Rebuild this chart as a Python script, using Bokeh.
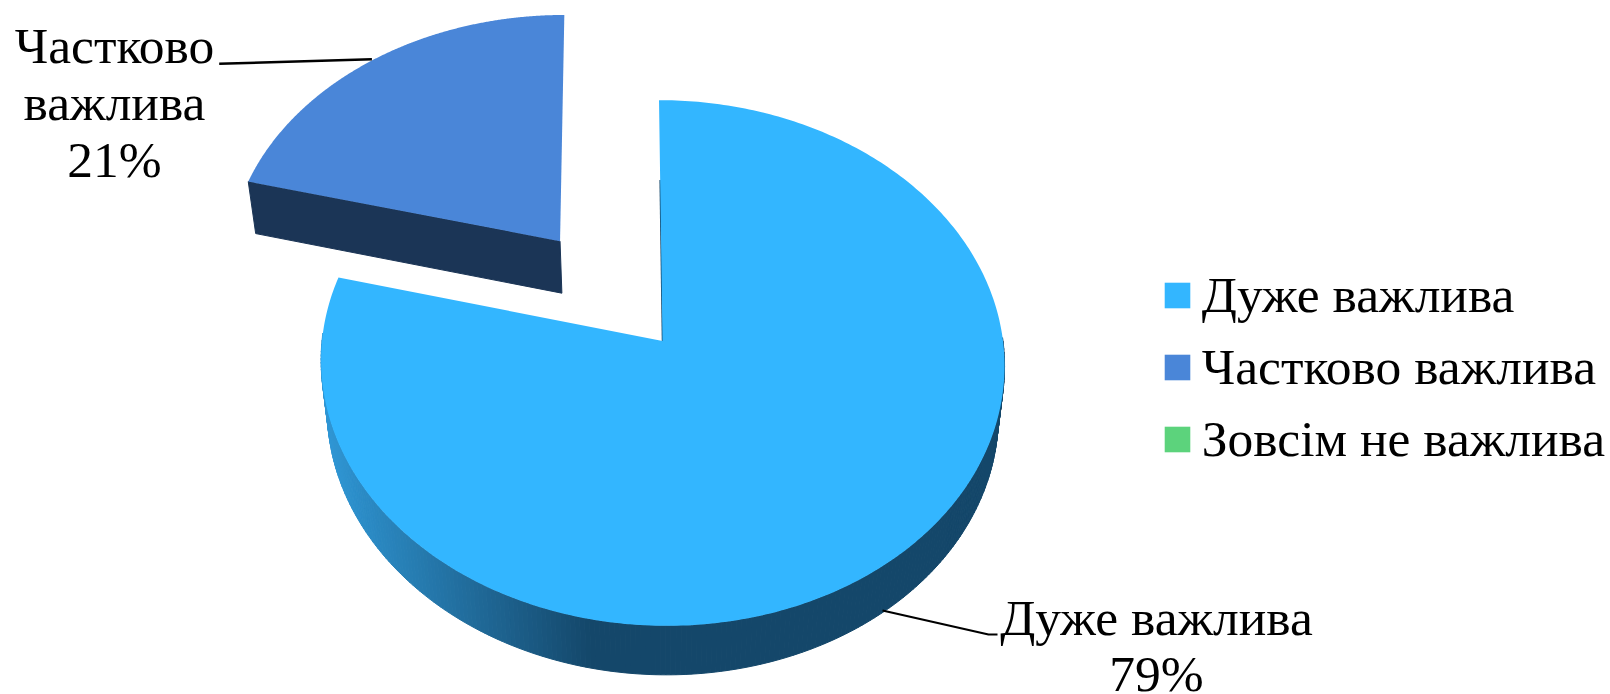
import numpy as np
from bokeh.core.properties import value
from bokeh.embed import file_html
from bokeh.models import Legend, LegendItem, Range1d
from bokeh.plotting import figure
from bokeh.resources import INLINE

categories = ["Дуже важлива", "Частково важлива", "Зовсім не важлива"]
shares = [79, 21, 0]
share_labels = ["79%", "21%", "0%"]
face_colors = ["#33B6FF", "#4A86D8", "#5CD37C"]
explode = [0.0, 0.50, 0.0]
wall_depth = [49.0, 52.0, 0.0]

FONT = "Liberation Serif"
FONT_PX = "51.5px"
CX, CY = 662.0, 340.5     # pie centre in the picture
RX, RY = 340.5, 261.0     # radii of the ground circle
K, SHEAR = 0.0837, 0.0145 # perspective and slant of the camera
TAPER = 0.018
TEXT_SHIFT = 18.5         # from the text's anchor to its drawn baseline

def to_screen(u, v):
    w = 1 + K * np.asarray(v)
    up = RY * np.asarray(v) / w
    return CX + RX * np.asarray(u) / w - SHEAR * up, CY - up

def to_bottom(x, y, depth):
    return x + (CX - x) * TAPER, y + depth

p = figure(width=1610, height=694, output_backend="svg", toolbar_location=None,
           x_range=Range1d(0, 1610), y_range=Range1d(694, 0),
           x_axis_location=None, y_axis_location=None, min_border=0,
           outline_line_color=None, background_fill_color="white")
p.grid.visible = False

def lerp_hex(a, b, t):
    ca = [int(a[i:i + 2], 16) for i in (1, 3, 5)]
    cb = [int(b[i:i + 2], 16) for i in (1, 3, 5)]
    return "#%02x%02x%02x" % tuple(round(x + (y - x) * t) for x, y in zip(ca, cb))

total = sum(shares)
starts = np.cumsum([0] + shares[:-1]) / total * 2 * np.pi
spans = np.array(shares) / total * 2 * np.pi
faces = []

for i, cat in enumerate(categories):
    mid = starts[i] + spans[i] / 2
    u0, v0 = explode[i] * np.sin(mid), explode[i] * np.cos(mid)
    th = np.linspace(starts[i], starts[i] + spans[i], 361)
    u = np.concatenate([[u0], u0 + np.sin(th)])
    v = np.concatenate([[v0], v0 + np.cos(th)])
    x, y = to_screen(u, v)
    bx, by = to_bottom(x, y, wall_depth[i])
    if i == 0:
        # curved outer wall, shaded from left to right; only the near side shows
        for j in range(1, len(x) - 1):
            if v[j] > 0.02:
                continue
            xm = (x[j] + x[j + 1]) / 2
            t = min(max((xm - 325) / 265, 0), 1)
            col = lerp_hex("#2F96D4", "#14476A", t)
            p.patch([x[j], x[j + 1], bx[j + 1], bx[j]], [y[j], y[j + 1], by[j + 1], by[j]],
                    fill_color=col, line_color=col, line_width=1)
        # the thin wall seen along the upright cut
        wx, wy = to_screen(np.array([0, 0]), np.array([0, 0.65]))
        p.line(wx, wy, line_color="#14476A", line_width=1.5)
    elif shares[i] > 0:
        # flat cut wall facing the viewer
        p.patch([x[0], x[1], bx[1], bx[0]], [y[0], y[1], by[1], by[0]],
                fill_color="#1B3556", line_color="#1B3556", line_width=1)
    faces.append((x, y, cat, i))

items = []
for x, y, cat, i in faces:
    r = p.patch(x, y, fill_color=face_colors[i], line_color=None)
    items.append(LegendItem(label=cat, renderers=[r]))

legend = Legend(items=items, location=(1160.75, 226), orientation="vertical",
                background_fill_alpha=0, border_line_color=None, margin=0, padding=0,
                glyph_width=32, glyph_height=32, label_standoff=9, spacing=13,
                label_text_font=FONT, label_text_font_size=FONT_PX, label_text_color="#000000",
                label_height=32)
p.add_layout(legend, "center")

# leader lines
p.line([218.7, 371.4], [63.3, 58.7], line_color="black", line_width=2.5)
p.line([882, 988, 997], [610, 634, 634], line_color="black", line_width=2.2)

# data labels
lab_font = dict(text_font=value(FONT), text_font_size={"value": FONT_PX}, text_color="black",
                text_align="center", text_baseline="alphabetic")
p.text(x=[114, 114, 114], y=[63 - TEXT_SHIFT, 120 - TEXT_SHIFT, 177 - TEXT_SHIFT],
       text=["Частково", "важлива", share_labels[1]], **lab_font)
p.text(x=[1156, 1156], y=[635 - TEXT_SHIFT, 691.5 - TEXT_SHIFT],
       text=[categories[0], share_labels[0]], **lab_font)

open("out.html", "w").write(file_html(p, INLINE))
